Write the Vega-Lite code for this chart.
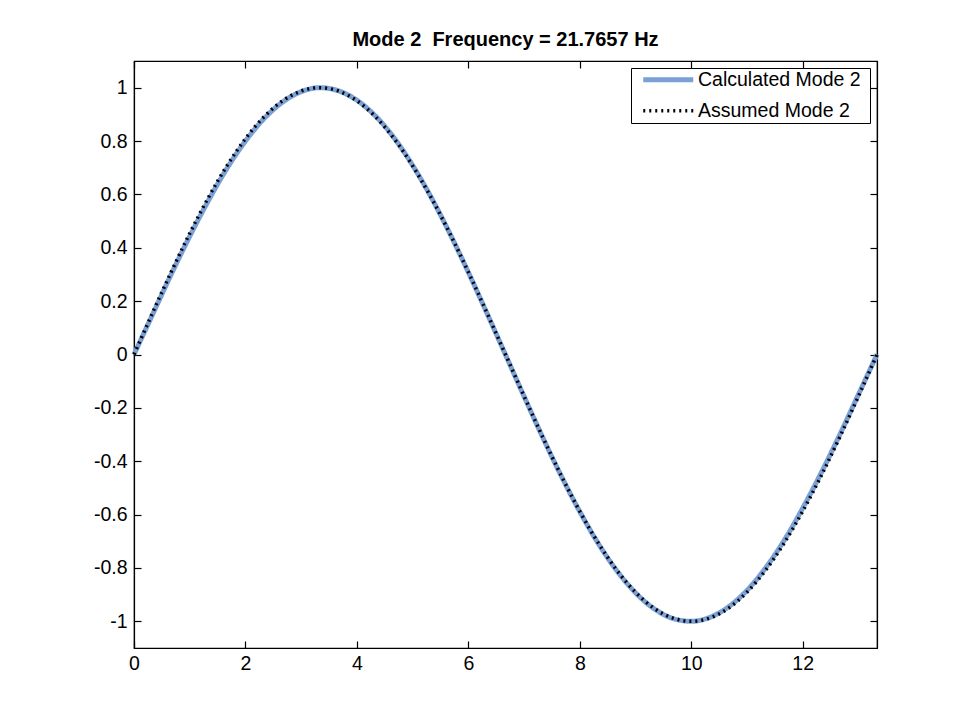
{
  "$schema": "https://vega.github.io/schema/vega-lite/v6.json",
  "width": 743,
  "height": 587,
  "autosize": "none",
  "padding": {"left": 134, "top": 61, "right": 84, "bottom": 77},
  "background": "white",
  "title": {
    "text": "Mode 2\u00a0 Frequency = 21.7657 Hz",
    "font": "Liberation Sans",
    "fontSize": 20,
    "fontWeight": "bold",
    "color": "black",
    "anchor": "middle",
    "frame": "group",
    "baseline": "alphabetic",
    "offset": 15,
    "dy": 21
  },
  "config": {
    "view": {"stroke": "black", "strokeWidth": 1.2},
    "axis": {
      "domainColor": "black",
      "domainWidth": 1.2,
      "tickColor": "black",
      "tickWidth": 1.2,
      "labelColor": "black",
      "labelFont": "Liberation Sans",
      "labelFontSize": 19.5,
      "grid": false,
      "title": null,
      "labelFlush": false,
      "labelOverlap": false
    }
  },
  "datasets": {
    "curves": [
      {"series": "Calculated Mode 2", "x": 0, "y": 0},
      {"series": "Calculated Mode 2", "x": 0.3333, "y": 0.150},
      {"series": "Calculated Mode 2", "x": 0.6667, "y": 0.300},
      {"series": "Calculated Mode 2", "x": 1.0, "y": 0.443},
      {"series": "Calculated Mode 2", "x": 1.3333, "y": 0.576},
      {"series": "Calculated Mode 2", "x": 1.6667, "y": 0.697},
      {"series": "Calculated Mode 2", "x": 2.0, "y": 0.800},
      {"series": "Calculated Mode 2", "x": 2.3333, "y": 0.884},
      {"series": "Calculated Mode 2", "x": 2.6667, "y": 0.946},
      {"series": "Calculated Mode 2", "x": 3.0, "y": 0.985},
      {"series": "Calculated Mode 2", "x": 3.3333, "y": 1.0},
      {"series": "Calculated Mode 2", "x": 3.6667, "y": 0.9885},
      {"series": "Calculated Mode 2", "x": 4.0, "y": 0.953},
      {"series": "Calculated Mode 2", "x": 4.3333, "y": 0.894},
      {"series": "Calculated Mode 2", "x": 4.6667, "y": 0.812},
      {"series": "Calculated Mode 2", "x": 5.0, "y": 0.709},
      {"series": "Calculated Mode 2", "x": 5.3333, "y": 0.589},
      {"series": "Calculated Mode 2", "x": 5.6667, "y": 0.454},
      {"series": "Calculated Mode 2", "x": 6.0, "y": 0.308},
      {"series": "Calculated Mode 2", "x": 6.3333, "y": 0.155},
      {"series": "Calculated Mode 2", "x": 6.6667, "y": -0.001},
      {"series": "Calculated Mode 2", "x": 7.0, "y": -0.157},
      {"series": "Calculated Mode 2", "x": 7.3333, "y": -0.310},
      {"series": "Calculated Mode 2", "x": 7.6667, "y": -0.455},
      {"series": "Calculated Mode 2", "x": 8.0, "y": -0.589},
      {"series": "Calculated Mode 2", "x": 8.3333, "y": -0.709},
      {"series": "Calculated Mode 2", "x": 8.6667, "y": -0.811},
      {"series": "Calculated Mode 2", "x": 9.0, "y": -0.893},
      {"series": "Calculated Mode 2", "x": 9.3333, "y": -0.953},
      {"series": "Calculated Mode 2", "x": 9.6667, "y": -0.989},
      {"series": "Calculated Mode 2", "x": 10.0, "y": -1.0},
      {"series": "Calculated Mode 2", "x": 10.3333, "y": -0.985},
      {"series": "Calculated Mode 2", "x": 10.6667, "y": -0.946},
      {"series": "Calculated Mode 2", "x": 11.0, "y": -0.884},
      {"series": "Calculated Mode 2", "x": 11.3333, "y": -0.800},
      {"series": "Calculated Mode 2", "x": 11.6667, "y": -0.697},
      {"series": "Calculated Mode 2", "x": 12.0, "y": -0.576},
      {"series": "Calculated Mode 2", "x": 12.3333, "y": -0.443},
      {"series": "Calculated Mode 2", "x": 12.6667, "y": -0.300},
      {"series": "Calculated Mode 2", "x": 13.0, "y": -0.150},
      {"series": "Calculated Mode 2", "x": 13.3333, "y": 0},
      {"series": "Assumed Mode 2", "x": 0, "y": 0},
      {"series": "Assumed Mode 2", "x": 0.3333, "y": 0.1564},
      {"series": "Assumed Mode 2", "x": 0.6667, "y": 0.3090},
      {"series": "Assumed Mode 2", "x": 1.0, "y": 0.4540},
      {"series": "Assumed Mode 2", "x": 1.3333, "y": 0.5878},
      {"series": "Assumed Mode 2", "x": 1.6667, "y": 0.7071},
      {"series": "Assumed Mode 2", "x": 2.0, "y": 0.8090},
      {"series": "Assumed Mode 2", "x": 2.3333, "y": 0.8910},
      {"series": "Assumed Mode 2", "x": 2.6667, "y": 0.9511},
      {"series": "Assumed Mode 2", "x": 3.0, "y": 0.9877},
      {"series": "Assumed Mode 2", "x": 3.3333, "y": 1.0},
      {"series": "Assumed Mode 2", "x": 3.6667, "y": 0.9877},
      {"series": "Assumed Mode 2", "x": 4.0, "y": 0.9511},
      {"series": "Assumed Mode 2", "x": 4.3333, "y": 0.8910},
      {"series": "Assumed Mode 2", "x": 4.6667, "y": 0.8090},
      {"series": "Assumed Mode 2", "x": 5.0, "y": 0.7071},
      {"series": "Assumed Mode 2", "x": 5.3333, "y": 0.5878},
      {"series": "Assumed Mode 2", "x": 5.6667, "y": 0.4540},
      {"series": "Assumed Mode 2", "x": 6.0, "y": 0.3090},
      {"series": "Assumed Mode 2", "x": 6.3333, "y": 0.1564},
      {"series": "Assumed Mode 2", "x": 6.6667, "y": 0},
      {"series": "Assumed Mode 2", "x": 7.0, "y": -0.1564},
      {"series": "Assumed Mode 2", "x": 7.3333, "y": -0.3090},
      {"series": "Assumed Mode 2", "x": 7.6667, "y": -0.4540},
      {"series": "Assumed Mode 2", "x": 8.0, "y": -0.5878},
      {"series": "Assumed Mode 2", "x": 8.3333, "y": -0.7071},
      {"series": "Assumed Mode 2", "x": 8.6667, "y": -0.8090},
      {"series": "Assumed Mode 2", "x": 9.0, "y": -0.8910},
      {"series": "Assumed Mode 2", "x": 9.3333, "y": -0.9511},
      {"series": "Assumed Mode 2", "x": 9.6667, "y": -0.9877},
      {"series": "Assumed Mode 2", "x": 10.0, "y": -1.0},
      {"series": "Assumed Mode 2", "x": 10.3333, "y": -0.9877},
      {"series": "Assumed Mode 2", "x": 10.6667, "y": -0.9511},
      {"series": "Assumed Mode 2", "x": 11.0, "y": -0.8910},
      {"series": "Assumed Mode 2", "x": 11.3333, "y": -0.8090},
      {"series": "Assumed Mode 2", "x": 11.6667, "y": -0.7071},
      {"series": "Assumed Mode 2", "x": 12.0, "y": -0.5878},
      {"series": "Assumed Mode 2", "x": 12.3333, "y": -0.4540},
      {"series": "Assumed Mode 2", "x": 12.6667, "y": -0.3090},
      {"series": "Assumed Mode 2", "x": 13.0, "y": -0.1564},
      {"series": "Assumed Mode 2", "x": 13.3333, "y": 0}
    ]
  },
  "data": {"name": "curves"},
  "resolve": {"axis": {"x": "independent", "y": "independent"}},
  "layer": [
    {
      "transform": [{"filter": "datum.series === 'Calculated Mode 2'"}],
      "mark": {"type": "line", "interpolate": "monotone", "strokeCap": "butt"},
      "encoding": {
        "x": {
          "field": "x", "type": "quantitative",
          "scale": {"domain": [0, 13.3333], "nice": false, "zero": false},
          "axis": {"orient": "bottom", "values": [0, 2, 4, 6, 8, 10, 12], "tickSize": -7, "labelPadding": 13, "labelExpr": "'' + datum.value"}
        },
        "y": {
          "field": "y", "type": "quantitative",
          "scale": {"domain": [-1.1, 1.1], "nice": false, "zero": false},
          "axis": {"orient": "left", "values": [-1, -0.8, -0.6, -0.4, -0.2, 0, 0.2, 0.4, 0.6, 0.8, 1], "tickSize": -7, "labelPadding": 14, "labelExpr": "'' + datum.value"}
        },
        "color": {
          "field": "series", "type": "nominal",
          "scale": {"domain": ["Calculated Mode 2", "Assumed Mode 2"], "range": ["#7aa0d6", "#000000"]},
          "legend": {
            "orient": "top-right", "offset": 7, "title": null,
            "strokeColor": "black", "fillColor": "white", "padding": 2,
            "labelFont": "Liberation Sans", "labelFontSize": 19.5, "labelColor": "black",
            "labelLimit": 400,
            "symbolType": "M-25,0H25M189,0", "symbolSize": 4, "symbolOffset": 25.5, "rowPadding": 10, "labelOffset": 20
          }
        },
        "strokeDash": {
          "field": "series", "type": "nominal",
          "scale": {"domain": ["Calculated Mode 2", "Assumed Mode 2"], "range": [[1, 0], [2, 4]]}
        },
        "strokeWidth": {
          "field": "series", "type": "nominal",
          "scale": {"domain": ["Calculated Mode 2", "Assumed Mode 2"], "range": [5, 3.5]}
        }
      }
    },
    {
      "transform": [{"filter": "datum.series === 'Assumed Mode 2'"}],
      "mark": {"type": "line", "interpolate": "monotone", "strokeCap": "butt"},
      "encoding": {
        "x": {
          "field": "x", "type": "quantitative",
          "axis": {"orient": "top", "values": [0, 2, 4, 6, 8, 10, 12], "tickSize": -7, "labels": false}
        },
        "y": {
          "field": "y", "type": "quantitative",
          "axis": {"orient": "right", "values": [-1, -0.8, -0.6, -0.4, -0.2, 0, 0.2, 0.4, 0.6, 0.8, 1], "tickSize": -7, "labels": false}
        },
        "color": {"field": "series", "type": "nominal"},
        "strokeDash": {"field": "series", "type": "nominal"},
        "strokeWidth": {"field": "series", "type": "nominal"}
      }
    }
  ]
}
